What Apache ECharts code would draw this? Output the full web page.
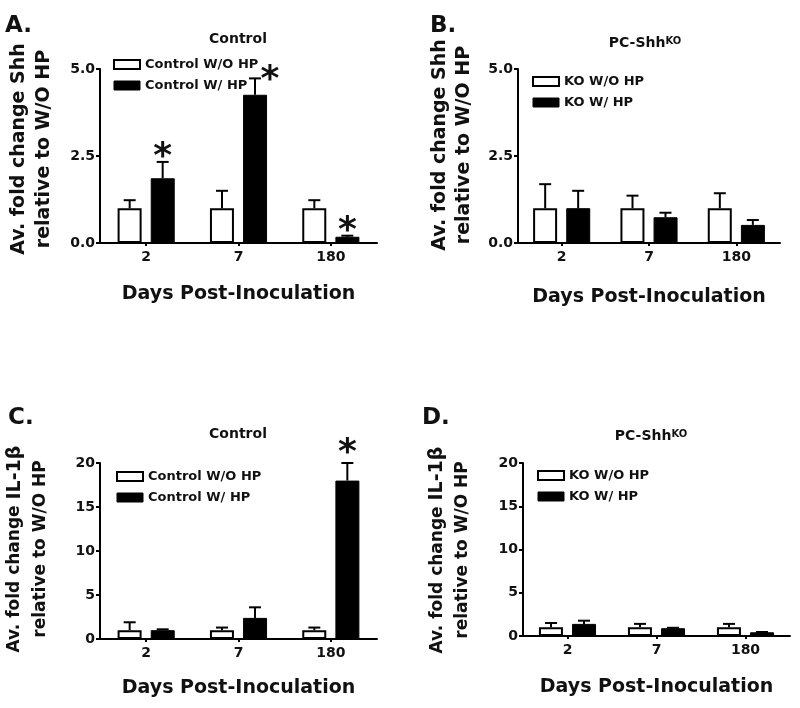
<!DOCTYPE html>
<html>
<head>
<meta charset="utf-8">
<script src="https://cdn.jsdelivr.net/npm/echarts@6/dist/echarts.min.js"></script>
<style>html,body{margin:0;padding:0;background:#fff;}#c{width:800px;height:708px;}</style>
</head>
<body>
<div id="c"></div>
<script>
// ---------- DATA ----------
const categories = ['2', '7', '180'];

// Panel A: Shh, Control
const A_woHP = [1.0, 1.0, 1.0];
const A_woHP_sem = [0.23, 0.5, 0.23];
const A_wHP = [1.86, 4.26, 0.18];
const A_wHP_sem = [0.47, 0.47, 0.03];
const A_sig = [1, 1, 1];

// Panel B: Shh, PC-ShhKO
const B_woHP = [1.0, 1.0, 1.0];
const B_woHP_sem = [0.69, 0.36, 0.43];
const B_wHP = [1.0, 0.74, 0.52];
const B_wHP_sem = [0.5, 0.13, 0.14];
const B_sig = [0, 0, 0];

// Panel C: IL-1beta, Control
const C_woHP = [1.0, 1.0, 1.0];
const C_woHP_sem = [0.9, 0.3, 0.3];
const C_wHP = [1.0, 2.4, 18.0];
const C_wHP_sem = [0.1, 1.2, 2.0];
const C_sig = [0, 0, 1];

// Panel D: IL-1beta, PC-ShhKO
const D_woHP = [1.0, 1.0, 1.0];
const D_woHP_sem = [0.5, 0.4, 0.4];
const D_wHP = [1.4, 0.9, 0.43];
const D_wHP_sem = [0.37, 0.05, 0.03];
const D_sig = [0, 0, 0];

const shhTicks = [0, 2.5, 5];
const il1bTicks = [0, 5, 10, 15, 20];

// ---------- STYLE / LAYOUT ----------
const FF = 'DejaVu Sans';
const INK = '#111';
const BAR_W = 24;
const HALF_STEP = 16.5;

const panels = [
  { label: 'A.', title: '{t|Control}', names: ['Control W/O HP', 'Control W/ HP'],
    wo: A_woHP, woSem: A_woHP_sem, w: A_wHP, wSem: A_wHP_sem, sig: A_sig, ticks: shhTicks, dec: 1,
    yName: '{a|Av. fold change Shh}\n{a|relative to W/O HP}', yFont: [19, 19], yLine: 25,
    grid: { left: 100, top: 69, width: 277, height: 174 }, legend: { left: 108, top: 53 },
    labelPos: [5, 15], titlePos: [238, 39], yNamePos: [32, 149], nameGap: 42,
    starNudge: { 1: [15, 6] } },
  { label: 'B.', title: '{t|PC-Shh}{s|KO}', names: ['KO W/O HP', 'KO W/ HP'],
    wo: B_woHP, woSem: B_woHP_sem, w: B_wHP, wSem: B_wHP_sem, sig: B_sig, ticks: shhTicks, dec: 1,
    yName: '{a|Av. fold change Shh}\n{a|relative to W/O HP}', yFont: [19, 19], yLine: 24,
    grid: { left: 518, top: 69, width: 262, height: 174 }, legend: { left: 527, top: 70 },
    labelPos: [430, 15], titlePos: [645, 43], yNamePos: [452, 145], nameGap: 45,
    starNudge: {} },
  { label: 'C.', title: '{t|Control}', names: ['Control W/O HP', 'Control W/ HP'],
    wo: C_woHP, woSem: C_woHP_sem, w: C_wHP, wSem: C_wHP_sem, sig: C_sig, ticks: il1bTicks, dec: 0,
    yName: '{a|Av. fold change }{b|IL-1β}\n{a|relative to W/O HP}', yFont: [17, 19], yLine: 26,
    grid: { left: 100, top: 463, width: 277, height: 176 }, legend: { left: 111, top: 465 },
    labelPos: [8, 407], titlePos: [238, 434], yNamePos: [28, 549], nameGap: 40,
    starNudge: { 2: [0, -5] } },
  { label: 'D.', title: '{t|PC-Shh}{s|KO}', names: ['KO W/O HP', 'KO W/ HP'],
    wo: D_woHP, woSem: D_woHP_sem, w: D_wHP, wSem: D_wHP_sem, sig: D_sig, ticks: il1bTicks, dec: 0,
    yName: '{a|Av. fold change }{b|IL-1β}\n{a|relative to W/O HP}', yFont: [17, 19], yLine: 25,
    grid: { left: 523, top: 463, width: 267, height: 173 }, legend: { left: 532, top: 464 },
    labelPos: [422, 407], titlePos: [651, 436], yNamePos: [450, 550], nameGap: 42,
    starNudge: {} }
];

function errRenderer(offset, nudges) {
  return function (params, api) {
    const i = api.value(0), m = api.value(1), e = api.value(2), s = api.value(3);
    const base = api.coord([i, m]);
    const top = api.coord([i, m + e]);
    const x = base[0] + offset;
    const children = [
      { type: 'line', shape: { x1: x, y1: base[1], x2: x, y2: top[1] }, style: { stroke: '#000', lineWidth: 2 } },
      { type: 'line', shape: { x1: x - 6, y1: top[1], x2: x + 6, y2: top[1] }, style: { stroke: '#000', lineWidth: 2 } }
    ];
    if (s) {
      const n = nudges[i] || [0, 0];
      const fs = 36;
      children.push({ type: 'text', x: x + n[0], y: top[1] - 13 + n[1] + 0.25 * fs,
        style: { text: '*', fontSize: fs, fontWeight: 'bold', fontFamily: FF, fill: INK, align: 'center', verticalAlign: 'middle' } });
    }
    return { type: 'group', children: children };
  };
}

const grids = [], xAxes = [], yAxes = [], series = [], legends = [], graphics = [];

panels.forEach(function (p, k) {
  grids.push(Object.assign({ containLabel: false }, p.grid));
  xAxes.push({
    type: 'category', gridIndex: k, data: categories,
    name: 'Days Post-Inoculation', nameLocation: 'middle', nameGap: p.nameGap,
    nameTextStyle: { fontFamily: FF, fontWeight: 'bold', fontSize: 19, color: INK },
    axisLine: { lineStyle: { color: '#000', width: 2 } },
    axisTick: { show: true, alignWithLabel: true, length: 3, lineStyle: { color: '#000', width: 2 } },
    axisLabel: { fontFamily: FF, fontWeight: 'bold', fontSize: 14, color: INK, margin: 7 },
    splitLine: { show: false }
  });
  const t = p.ticks;
  yAxes.push({
    type: 'value', gridIndex: k, min: t[0], max: t[t.length - 1], interval: t[1] - t[0],
    axisLine: { show: true, lineStyle: { color: '#000', width: 2 } },
    axisTick: { show: true, length: 4, lineStyle: { color: '#000', width: 2 } },
    axisLabel: { fontFamily: FF, fontWeight: 'bold', fontSize: 14, color: INK, margin: 5,
      formatter: function (v) { return v.toFixed(p.dec); } },
    splitLine: { show: false }
  });
  series.push({
    type: 'bar', name: p.names[0], xAxisIndex: k, yAxisIndex: k, data: p.wo,
    barWidth: BAR_W, barGap: '38%',
    itemStyle: { color: '#fff', borderColor: '#000', borderWidth: 2 }
  });
  series.push({
    type: 'bar', name: p.names[1], xAxisIndex: k, yAxisIndex: k, data: p.w,
    barWidth: BAR_W, barGap: '38%',
    itemStyle: { color: '#000', borderColor: '#000', borderWidth: 1 }
  });
  series.push({
    type: 'custom', name: 'err' + k + 'a', xAxisIndex: k, yAxisIndex: k,
    renderItem: errRenderer(-HALF_STEP, {}),
    encode: { x: 0, y: 1 }, z: 3,
    data: p.wo.map(function (v, i) { return [i, v, p.woSem[i], 0]; })
  });
  series.push({
    type: 'custom', name: 'err' + k + 'b', xAxisIndex: k, yAxisIndex: k,
    renderItem: errRenderer(HALF_STEP, p.starNudge),
    encode: { x: 0, y: 1 }, z: 3,
    data: p.w.map(function (v, i) { return [i, v, p.wSem[i], p.sig[i]]; })
  });
  legends.push({
    orient: 'vertical', left: p.legend.left, top: p.legend.top,
    itemWidth: 26, itemHeight: 9, itemGap: 8, selectedMode: false,
    textStyle: { fontFamily: FF, fontWeight: 'bold', fontSize: 13, color: INK },
    data: [
      { name: p.names[0], icon: 'rect', itemStyle: { color: '#fff', borderColor: '#000', borderWidth: 2 } },
      { name: p.names[1], icon: 'rect', itemStyle: { color: '#000', borderColor: '#000', borderWidth: 1 } }
    ]
  });
  graphics.push({ type: 'text', x: p.labelPos[0], y: p.labelPos[1],
    style: { text: p.label, fontFamily: FF, fontWeight: 'bold', fontSize: 23, fill: INK, align: 'left', verticalAlign: 'top' } });
  graphics.push({ type: 'text', x: p.titlePos[0], y: p.titlePos[1],
    style: { text: p.title, align: 'center', verticalAlign: 'middle', fill: INK,
      rich: { t: { fontFamily: FF, fontWeight: 'bold', fontSize: 14, fill: INK },
              s: { fontFamily: FF, fontWeight: 'bold', fontSize: 10, fill: INK, verticalAlign: 'top' } } } });
  graphics.push({ type: 'text', x: p.yNamePos[0], y: p.yNamePos[1], rotation: Math.PI / 2,
    style: { text: p.yName, align: 'center', verticalAlign: 'middle', fill: INK,
      rich: { a: { fontFamily: FF, fontWeight: 'bold', fontSize: p.yFont[0], lineHeight: p.yLine, fill: INK },
              b: { fontFamily: FF, fontWeight: 'bold', fontSize: p.yFont[1], lineHeight: p.yLine, fill: INK } } } });
});

const chart = echarts.init(document.getElementById('c'), null, { renderer: 'canvas' });
chart.setOption({
  animation: false,
  backgroundColor: '#fff',
  grid: grids, xAxis: xAxes, yAxis: yAxes, series: series, legend: legends, graphic: graphics
});
</script>
</body>
</html>
